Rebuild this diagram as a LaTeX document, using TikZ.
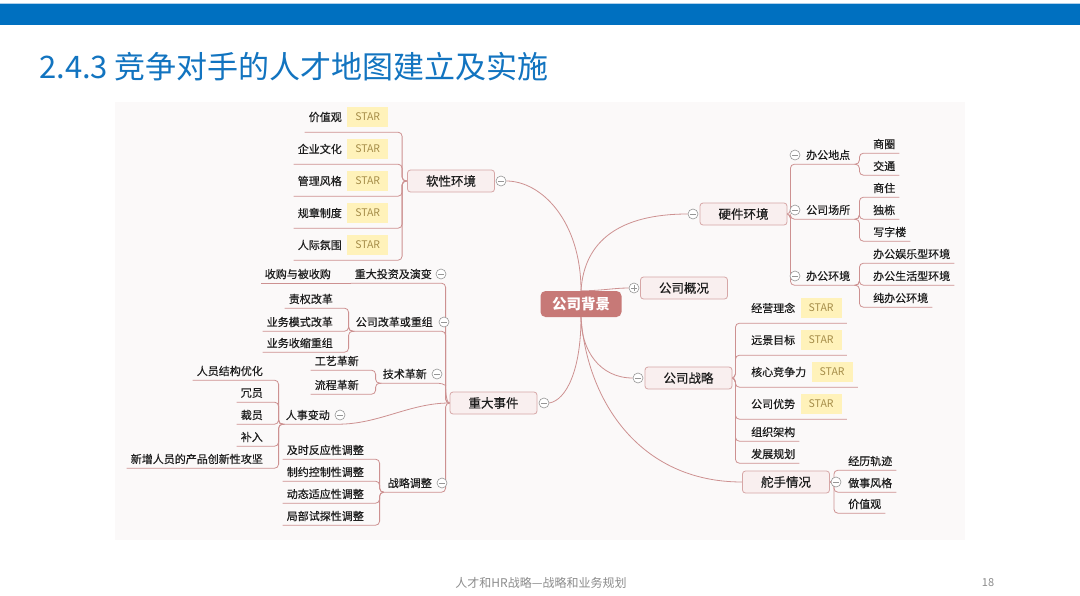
\documentclass[tikz,border=0pt]{standalone}
\usepackage{fontspec}
\setmainfont{Noto Sans CJK SC}
\newfontfamily\medfont{Noto Sans CJK SC}[FakeBold=0.5]
\usetikzlibrary{positioning, backgrounds}
\definecolor{barc}{RGB}{0,112,192}
\definecolor{barlt}{RGB}{175,208,235}
\definecolor{titlec}{RGB}{18,116,192}
\definecolor{linkc}{RGB}{205,145,145}
\definecolor{topicbg}{RGB}{249,239,239}
\definecolor{topicbd}{RGB}{214,166,166}
\definecolor{rootc}{RGB}{199,121,119}
\definecolor{foldc}{RGB}{150,150,150}
\definecolor{txt}{RGB}{30,30,30}
\definecolor{starbg}{RGB}{255,242,186}
\definecolor{starc}{RGB}{165,140,72}
\definecolor{panel}{RGB}{251,249,249}
\definecolor{footc}{RGB}{140,140,140}
\tikzstyle{branch} = [draw=linkc, line width=0.8pt, rounded corners=4pt]
\tikzstyle{root} = [fill=rootc, rounded corners=5pt, minimum width=81pt, minimum height=26pt, inner sep=0pt, text=white, font=\fontsize{14.5}{16}\selectfont\bfseries]
\tikzstyle{topic} = [draw=topicbd, fill=topicbg, line width=0.8pt, rounded corners=3pt, minimum width=87pt, minimum height=22pt, inner sep=0pt, text=txt, font=\medfont\fontsize{12.5}{14}\selectfont]
\tikzstyle{leaf} = [inner xsep=4pt, inner ysep=0pt, minimum height=18pt, text=txt, font=\medfont\fontsize{11}{13}\selectfont]
\tikzstyle{rowstar} = [leaf, minimum height=30pt]
\tikzstyle{starbox} = [fill=starbg, minimum width=41pt, minimum height=20pt, inner sep=0pt, text=starc, font=\fontsize{10.5}{12}\selectfont]
\tikzstyle{fold} = [circle, draw=foldc, fill=white, line width=0.6pt, minimum size=10pt, inner sep=0pt,
  path picture={\draw[foldc, line width=0.6pt] ([xshift=-3pt]path picture bounding box.center) -- ([xshift=3pt]path picture bounding box.center);}]
\tikzstyle{unfold} = [circle, draw=foldc, fill=white, line width=0.6pt, minimum size=10pt, inner sep=0pt,
  path picture={\draw[foldc, line width=0.6pt] ([xshift=-3pt]path picture bounding box.center) -- ([xshift=3pt]path picture bounding box.center)
    ([yshift=-3pt]path picture bounding box.center) -- ([yshift=3pt]path picture bounding box.center);}]

\begin{document}
\begin{tikzpicture}[x=1pt, y=-1pt]
	\useasboundingbox (0,0) rectangle (1080,595);
	% header
	\fill[barlt] (0,2.5) rectangle (1080,4);
	\fill[barc] (0,4) rectangle (1080,25);
	\node[anchor=west, inner sep=0pt, text=titlec, font=\fontsize{31}{34}\selectfont] (title) at (39,67) {2.4.3 竞争对手的人才地图建立及实施};
	
	% main topics
	\node[root]  (center) at (581,304)   {公司背景};
	\node[topic] (soft)   at (451,181)   {软性环境};
	\node[topic] (hard)   at (743.5,214) {硬件环境};
	\node[topic] (over)   at (684,288)   {公司概况};
	\node[topic] (strat)  at (688.5,378) {公司战略};
	\node[topic] (events) at (493.5,403) {重大事件};
	\node[topic] (helm)   at (786,482)   {舵手情况};
	
	% soft environment
	\node[rowstar, anchor=east] (sv1) at (346,117) {价值观};
	\node[starbox, right=1pt of sv1] (ss1) {STAR};
	\node[rowstar, anchor=east] (sv2) at (346,149) {企业文化};
	\node[starbox, right=1pt of sv2] (ss2) {STAR};
	\node[rowstar, anchor=east] (sv3) at (346,181) {管理风格};
	\node[starbox, right=1pt of sv3] (ss3) {STAR};
	\node[rowstar, anchor=east] (sv4) at (346,213) {规章制度};
	\node[starbox, right=1pt of sv4] (ss4) {STAR};
	\node[rowstar, anchor=east] (sv5) at (346,245) {人际氛围};
	\node[starbox, right=1pt of sv5] (ss5) {STAR};
	
	% major events
	\node[leaf, anchor=east] (invest) at (436,274) {重大投资及演变};
	\node[leaf, anchor=east] (acq)    at (335,274) {收购与被收购};
	\node[leaf, anchor=east] (reform) at (437,322) {公司改革或重组};
	\node[leaf, anchor=east] (rf1)    at (337,299) {责权改革};
	\node[leaf, anchor=east] (rf2)    at (337,322) {业务模式改革};
	\node[leaf, anchor=east] (rf3)    at (337,343) {业务收缩重组};
	\node[leaf, anchor=east] (tech)   at (431,374) {技术革新};
	\node[leaf, anchor=east] (tc1)    at (363,361) {工艺革新};
	\node[leaf, anchor=east] (tc2)    at (363,385) {流程革新};
	\node[leaf, anchor=east] (hr)     at (334,415) {人事变动};
	\node[leaf, anchor=east] (hr1)    at (267,371) {人员结构优化};
	\node[leaf, anchor=east] (hr2)    at (267,393) {冗员};
	\node[leaf, anchor=east] (hr3)    at (267,415) {裁员};
	\node[leaf, anchor=east] (hr4)    at (267,437) {补入};
	\node[leaf, anchor=east] (hr5)    at (267,459) {新增人员的产品创新性攻坚};
	\node[leaf, anchor=east] (adj)    at (436,483) {战略调整};
	\node[leaf, anchor=east] (aj1)    at (368,450) {及时反应性调整};
	\node[leaf, anchor=east] (aj2)    at (368,472) {制约控制性调整};
	\node[leaf, anchor=east] (aj3)    at (368,494) {动态适应性调整};
	\node[leaf, anchor=east] (aj4)    at (368,516) {局部试探性调整};
	
	% hardware environment
	\node[leaf, anchor=west] (loc)  at (802,155) {办公地点};
	\node[leaf, anchor=west] (site) at (802,210) {公司场所};
	\node[leaf, anchor=west] (env)  at (802,276) {办公环境};
	\node[leaf, anchor=west] (lc1)  at (869,144) {商圈};
	\node[leaf, anchor=west] (lc2)  at (869,166) {交通};
	\node[leaf, anchor=west] (st1)  at (869,188) {商住};
	\node[leaf, anchor=west] (st2)  at (869,210) {独栋};
	\node[leaf, anchor=west] (st3)  at (869,232) {写字楼};
	\node[leaf, anchor=west] (ev1)  at (869,254) {办公娱乐型环境};
	\node[leaf, anchor=west] (ev2)  at (869,276) {办公生活型环境};
	\node[leaf, anchor=west] (ev3)  at (869,298) {纯办公环境};
	
	% strategy
	\node[rowstar, anchor=west] (sg1) at (747,308) {经营理念};
	\node[starbox, right=1pt of sg1] (sgs1) {STAR};
	\node[rowstar, anchor=west] (sg2) at (747,340) {远景目标};
	\node[starbox, right=1pt of sg2] (sgs2) {STAR};
	\node[rowstar, anchor=west] (sg3) at (747,372) {核心竞争力};
	\node[starbox, right=1pt of sg3] (sgs3) {STAR};
	\node[rowstar, anchor=west] (sg4) at (747,404) {公司优势};
	\node[starbox, right=1pt of sg4] (sgs4) {STAR};
	\node[leaf, anchor=west] (sg5) at (747,432) {组织架构};
	\node[leaf, anchor=west] (sg6) at (747,454) {发展规划};
	
	% helmsman
	\node[leaf, anchor=west] (hm1) at (844,461) {经历轨迹};
	\node[leaf, anchor=west] (hm2) at (844,483) {做事风格};
	\node[leaf, anchor=west] (hm3) at (844,504) {价值观};
	
	% fold marks
	\node[fold]   (f-soft)   at (501,181) {};
	\node[fold]   (f-hard)   at (693,214) {};
	\node[unfold] (f-over)   at (634,288) {};
	\node[fold]   (f-strat)  at (638,378) {};
	\node[fold]   (f-events) at (544,403) {};
	\node[fold]   (f-helm)   at (836,482) {};
	\node[fold]   (f-invest) at (441,274) {};
	\node[fold]   (f-reform) at (444,322) {};
	\node[fold]   (f-tech)   at (437,374) {};
	\node[fold]   (f-hr)     at (340,415) {};
	\node[fold]   (f-adj)    at (442,483) {};
	\node[fold]   (f-loc)    at (795,155) {};
	\node[fold]   (f-site)   at (795,210) {};
	\node[fold]   (f-env)    at (795,276) {};
	
	% footer
	\node[text=footc, font=\fontsize{12}{14}\selectfont] (foot) at (541,583) {人才和HR战略—战略和业务规划};
	\node[text=footc, font=\fontsize{11}{13}\selectfont] (page) at (988,583) {18};
	
	\begin{scope}[on background layer]
		\fill[white] (0,0) rectangle (1080,595);
		\fill[panel] (115,102) rectangle (965,540);
		% from the root
		\draw[branch] (center.north) .. controls +(0,-70) and +(35,0) .. (f-soft.east);
		\draw[branch] (center.north) .. controls +(3,-50) and +(-68,0) .. (f-hard.west);
		\draw[branch] (center.north) .. controls +(20,0) and +(-15,0) .. (f-over.west);
		\draw[branch] (center.south) .. controls +(0,33) and +(-33,0) .. (f-strat.west);
		\draw[branch] (center.south) .. controls +(0,53) and +(17,-3) .. (f-events.east);
		\draw[branch] (center.south) .. controls +(6,83) and +(-103,0) .. (helm.west);
		% soft environment
		\draw[branch] (soft.west) -- ++(-5,0) |- (sv1.south west);
		\draw[branch] (soft.west) -- ++(-5,0) |- (sv2.south west);
		\draw[branch] (soft.west) -- ++(-5,0) |- (sv3.south west);
		\draw[branch] (soft.west) -- ++(-5,0) |- (sv4.south west);
		\draw[branch] (soft.west) -- ++(-5,0) |- (sv5.south west);
		% major events
		\draw[branch] (events.west) -- ++(-4,0) |- (invest.south west);
		\draw[branch] (events.west) -- ++(-4,0) |- (reform.south west);
		\draw[branch] (events.west) -- ++(-4,0) |- (adj.south west);
		\draw[branch] (events.west) .. controls +(-4,0) and +(3,2) .. (f-tech.east |- tech.south) -- (tech.south west);
		\draw[branch] (events.west) .. controls +(-40,0) and +(45,0) .. (hr.south east) -- (hr.south west);
		\draw[branch] (invest.south west) -- (acq.south west);
		\draw[branch] (reform.south west) -- ++(-3,0) |- (rf1.south west);
		\draw[branch] (reform.south west) -- ++(-3,0) |- (rf2.south west);
		\draw[branch] (reform.south west) -- ++(-3,0) |- (rf3.south west);
		\draw[branch] (tech.south west) -- ++(-3,0) |- (tc1.south west);
		\draw[branch] (tech.south west) -- ++(-3,0) |- (tc2.south west);
		\draw[branch] (hr.south west) -- ++(-3,0) |- (hr1.south west);
		\draw[branch] (hr.south west) -- ++(-3,0) |- (hr2.south west);
		\draw[branch] (hr.south west) -- ++(-3,0) |- (hr3.south west);
		\draw[branch] (hr.south west) -- ++(-3,0) |- (hr4.south west);
		\draw[branch] (hr.south west) -- ++(-3,0) |- (hr5.south west);
		\draw[branch] (adj.south west) -- ++(-4,0) |- (aj1.south west);
		\draw[branch] (adj.south west) -- ++(-4,0) |- (aj2.south west);
		\draw[branch] (adj.south west) -- ++(-4,0) |- (aj3.south west);
		\draw[branch] (adj.south west) -- ++(-4,0) |- (aj4.south west);
		% hardware environment
		\draw[branch] (hard.east) -- ++(3,0) |- (loc.south east);
		\draw[branch] (hard.east) -- ++(3,0) |- (site.south east);
		\draw[branch] (hard.east) -- ++(3,0) |- (env.south east);
		\draw[branch] (loc.south east) -- ++(5,0) |- (lc1.south east);
		\draw[branch] (loc.south east) -- ++(5,0) |- (lc2.south east);
		\draw[branch] (site.south east) -- ++(5,0) |- (st1.south east);
		\draw[branch] (site.south east) -- ++(5,0) |- (st2.south east);
		\draw[branch] (site.south east) -- ++(5,0) |- (st3.south east);
		\draw[branch] (env.south east) -- ++(5,0) |- (ev1.south east);
		\draw[branch] (env.south east) -- ++(5,0) |- (ev2.south east);
		\draw[branch] (env.south east) -- ++(5,0) |- (ev3.south east);
		% strategy
		\draw[branch] (strat.east) -- ++(3,0) |- ([xshift=5pt]sgs1.east |- sg1.south);
		\draw[branch] (strat.east) -- ++(3,0) |- ([xshift=5pt]sgs2.east |- sg2.south);
		\draw[branch] (strat.east) -- ++(3,0) |- ([xshift=5pt]sgs3.east |- sg3.south);
		\draw[branch] (strat.east) -- ++(3,0) |- ([xshift=5pt]sgs4.east |- sg4.south);
		\draw[branch] (strat.east) -- ++(3,0) |- (sg5.south east);
		\draw[branch] (strat.east) -- ++(3,0) |- (sg6.south east);
		% helmsman
		\draw[branch] (helm.east) -- ++(4,0) |- (hm1.south east);
		\draw[branch] (helm.east) -- ++(4,0) |- (hm2.south east);
		\draw[branch] (helm.east) -- ++(4,0) |- (hm3.south east);
	\end{scope}
\end{tikzpicture}
\end{document}
